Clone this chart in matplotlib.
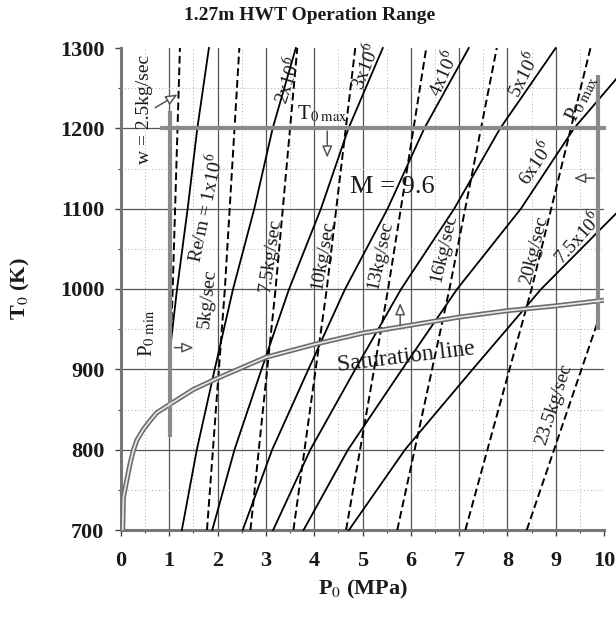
import matplotlib
matplotlib.use('Agg')
import matplotlib.pyplot as plt
from matplotlib.patches import Rectangle

plt.rcParams['font.family'] = ['Liberation Serif', 'DejaVu Serif']
plt.rcParams['mathtext.fontset'] = 'stix'

# ---------------- data ----------------
# constant Re/m lines (solid), P0 [MPa] at the temperatures in re_T
re_T = [700, 800, 900, 1000, 1100, 1200, 1300]
re_P = [
    [0.63, 0.78, 0.97, 1.16, 1.38, 1.58, 1.82],
    [1.26, 1.57, 1.94, 2.32, 2.76, 3.14, 3.62],
    [1.89, 2.35, 2.91, 3.48, 4.14, 4.71, 5.42],
    [2.52, 3.13, 3.88, 4.64, 5.52, 6.28, 7.20],
    [3.15, 3.92, 4.85, 5.80, 6.90, 7.85, 9.00],
    [3.78, 4.70, 5.82, 6.96, 8.28, 9.38, 10.80],
    [4.72, 5.88, 7.28, 8.70, 10.35, 11.80, 13.50],
]
re_labels = ['Re/m = 1x10$^6$', '2x10$^6$', '3x10$^6$', '4x10$^6$',
             '5x10$^6$', '6x10$^6$', '7.5x10$^6$']
re_label_pos = [(1.74, 1101), (3.44, 1260), (5.05, 1277), (6.67, 1269),
                (8.32, 1267), (8.57, 1157), (9.46, 1064)]
re_label_rot = [78, 72, 68, 66, 63, 56, 48]

# constant mass-flow lines (dashed), P0 [MPa] at temperatures in w_T
w_T = [700, 1000, 1300]
w_P = [
    [0.89, 1.07, 1.22],
    [1.78, 2.15, 2.45],
    [2.68, 3.20, 3.65],
    [3.57, 4.26, 4.85],
    [4.66, 5.53, 6.32],
    [5.72, 6.80, 7.78],
    [7.13, 8.50, 9.72],
    [8.40, 10.10, 11.50],
]
w_labels = ['w = 2.5kg/sec', '5kg/sec', '7.5kg/sec', '10kg/sec', '13kg/sec',
            '16kg/sec', '20kg/sec', '23.5kg/sec']
w_label_pos = [(0.48, 1223), (1.80, 988), (3.10, 1042), (4.18, 1042),
               (5.36, 1042), (6.69, 1051), (8.55, 1049), (8.97, 856)]
w_label_rot = [90, 84, 82, 80, 78, 77, 76, 72]

# saturation line
sat_P = [0.035, 0.05, 0.12, 0.19, 0.26, 0.33, 0.46, 0.60, 0.74, 1.0, 1.5,
         2.0, 3.0, 4.0, 5.0, 6.0, 7.0, 8.0, 9.0, 10.0]
sat_T = [700, 741, 762, 783, 800, 812, 825, 836, 846, 856, 875,
         889, 915, 931, 945, 955, 965, 973, 979, 986]

# operating limits
p0_min = 1.02
p0_min_T = [816, 1222]
p0_max = 9.88
p0_max_T = [949, 1267]
t0_max = 1200
t0_max_P = [0.81, 10.05]

# ---------------- figure ----------------
fig = plt.figure(figsize=(6.16, 6.17), dpi=100)
ax = fig.add_axes([121 / 616, 1 - 530 / 617, 483 / 616, 482 / 617])
ax.set_xlim(0, 10)
ax.set_ylim(700, 1300)

# grid
for x in range(1, 10):
    ax.axvline(x, color='#555555', lw=0.9, zorder=1)
for y in range(800, 1300, 100):
    ax.axhline(y, color='#555555', lw=0.9, zorder=1)
for x in [i + 0.5 for i in range(10)]:
    ax.axvline(x, color='#aaaaaa', lw=0.7, ls=(0, (1, 2.5)), zorder=1)
for y in range(750, 1300, 100):
    ax.axhline(y, color='#aaaaaa', lw=0.7, ls=(0, (1, 2.5)), zorder=1)

clip_re = Rectangle((p0_min, 690), 12, 700, transform=ax.transData)
clip_w = Rectangle((p0_min, 690), p0_max - p0_min, 700, transform=ax.transData)

for P in re_P:
    ln, = ax.plot(P, re_T, color='black', lw=1.3, zorder=3)
    ln.set_clip_path(clip_re)
for P in w_P:
    ln, = ax.plot(P, w_T, color='black', lw=1.4, ls=(0, (4, 2)), zorder=3)
    ln.set_clip_path(clip_w)

# saturation line (double line)
ax.plot(sat_P, sat_T, color='#6a6a6a', lw=3.6, zorder=4, solid_capstyle='butt')
ax.plot(sat_P, sat_T, color='#e4e4e4', lw=1.3, zorder=5, solid_capstyle='butt')

# limits
lim_kw = dict(color='#8a8a8a', lw=3.0, zorder=4, solid_capstyle='butt', clip_on=False)
ax.plot([p0_min, p0_min], p0_min_T, **lim_kw)
ax.plot([p0_max, p0_max], p0_max_T, **lim_kw)
ax.plot(t0_max_P, [t0_max, t0_max], **lim_kw)

# arrows
akw = dict(arrowstyle='-|>,head_length=0.7,head_width=0.3', fc='white', ec='#555555', lw=1.1)
ax.annotate('', xy=(4.27, 1160), xytext=(4.27, 1200), arrowprops=akw, zorder=6)
ax.annotate('', xy=(1.56, 927), xytext=(1.05, 927), arrowprops=akw, zorder=6)
ax.annotate('', xy=(5.78, 986), xytext=(5.78, 951), arrowprops=akw, zorder=6)
ax.annotate('', xy=(9.32, 1138), xytext=(9.86, 1138), arrowprops=akw, zorder=6)
ax.annotate('', xy=(1.22, 1244), xytext=(0.66, 1224), arrowprops=akw, zorder=6)

tc = '#1a1a1a'
for s, (x, y), r in zip(re_labels, re_label_pos, re_label_rot):
    ax.text(x, y, s, rotation=r, ha='center', va='center', fontsize=14,
            color=tc, rotation_mode='anchor', zorder=7)
for s, (x, y), r in zip(w_labels, w_label_pos, w_label_rot):
    ax.text(x, y, s, rotation=r, ha='center', va='center', fontsize=14,
            color=tc, rotation_mode='anchor', zorder=7)

ax.text(4.16, 1218, r'T$_{0\ \mathrm{max}}$', ha='center', va='center', fontsize=15, color=tc, zorder=7)
ax.text(9.54, 1238, r'P$_{0\ \mathrm{max}}$', rotation=64, ha='center', va='center',
        fontsize=15, color=tc, rotation_mode='anchor', zorder=7)
ax.text(0.54, 945, r'P$_{0\ \mathrm{min}}$', rotation=90, ha='center', va='center',
        fontsize=15, color=tc, rotation_mode='anchor', zorder=7)
ax.text(5.62, 1127, 'M = 9.6', ha='center', va='center', fontsize=19, color=tc, zorder=7)
ax.text(5.9, 915, 'Saturation line', rotation=7, ha='center', va='center', fontsize=17,
        color=tc, rotation_mode='anchor', zorder=7)

# axes styling
for sp in ['top', 'right']:
    ax.spines[sp].set_visible(False)
for sp in ['left', 'bottom']:
    ax.spines[sp].set_color('#777777')
    ax.spines[sp].set_linewidth(2.2)

ax.set_xticks(range(0, 11))
ax.set_yticks(range(700, 1301, 100))
ax.set_xticks([i + 0.5 for i in range(10)], minor=True)
ax.set_yticks(range(750, 1300, 100), minor=True)
ax.tick_params(which='major', direction='out', length=4, width=1, color='#444444',
               labelsize=16, labelcolor=tc)
ax.tick_params(which='minor', direction='out', length=2.5, width=0.8, color='#444444')
ax.tick_params(axis='x', pad=11)
ax.tick_params(axis='y', pad=8)
for lab in ax.get_xticklabels() + ax.get_yticklabels():
    lab.set_fontweight('bold')

ax.set_xlabel(r'P$_0$ (MPa)', fontsize=16, fontweight='bold', color=tc, labelpad=5)
ax.set_ylabel(r'T$_0$ (K)', fontsize=16, fontweight='bold', color=tc, labelpad=20)

fig.text(0.503, 0.975, '1.27m HWT Operation Range', ha='center', va='center',
         fontsize=14, fontweight='bold', color=tc)

fig.savefig('out.png', dpi=100)
